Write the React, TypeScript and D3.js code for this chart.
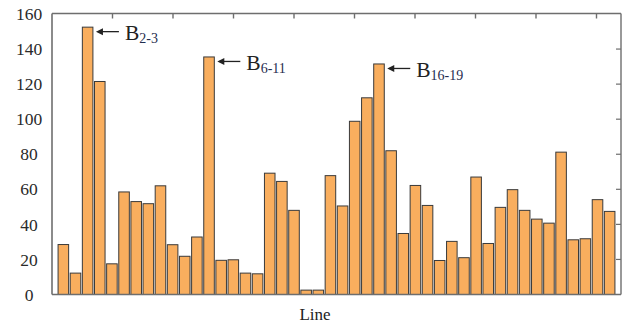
import React from "react";
import * as d3 from "d3";

const categories: string[] = Array.from({ length: 46 }, (_, i) => `L${i + 1}`);
const values: number[] = [
  28.5, 12.2, 152.5, 121.5, 17.5, 58.5, 53, 51.8, 62, 28.4, 21.8, 32.8, 135.5,
  19.5, 19.8, 12.2, 11.8, 69.2, 64.5, 48, 2.5, 2.5, 67.8, 50.5, 98.8, 112.2,
  131.5, 82, 34.8, 62.2, 50.8, 19.4, 30.3, 21, 67, 29.1, 49.7, 59.8, 48, 43,
  40.7, 81.2, 31.2, 31.8, 54.1, 47.4,
];
const yTicks: number[] = [0, 20, 40, 60, 80, 100, 120, 140, 160];
const topTicks: number[] = [1, 2, 3, 4, 5, 6, 7, 8, 9];
const annotations: { index: number; sub: string }[] = [
  { index: 2, sub: "2-3" },
  { index: 12, sub: "6-11" },
  { index: 26, sub: "16-19" },
];

const W = 630;
const H = 324;
const L = 52;
const R = 621;
const T = 13.5;
const B = 294.5;

export default function App() {
  const x = d3
    .scaleBand<string>()
    .domain(categories)
    .range([L, R])
    .paddingInner(0.13)
    .paddingOuter(0.5);
  const y = d3.scaleLinear().domain([0, 160]).range([B, 14]);
  const xTop = d3.scaleLinear().domain([0, (R - L) / 60.5]).range([L, R]);
  const frame = "#6e6e6e";
  const serif = "'Liberation Serif', 'Times New Roman', serif";

  return (
    <svg
      width={W}
      height={H}
      style={{ position: "absolute", left: 0, top: 0, background: "#fff" }}
    >
      {values.map((v, i) => (
        <rect
          key={i}
          x={x(categories[i])!}
          y={y(v)}
          width={x.bandwidth()}
          height={B - y(v)}
          fill="#F9AE5E"
          stroke="#3a3a3a"
          strokeWidth={1}
        />
      ))}
      {/* frame */}
      <line x1={L} x2={R} y1={T} y2={T} stroke={frame} strokeWidth={1.4} />
      <line x1={R} x2={R} y1={T} y2={B} stroke={frame} strokeWidth={1.4} />
      <line x1={L} x2={R} y1={B} y2={B} stroke={frame} strokeWidth={1.6} />
      <line x1={L} x2={L} y1={T} y2={B} stroke={frame} strokeWidth={1.6} />
      {topTicks.map((t) => (
        <line
          key={"tt" + t}
          x1={xTop(t)}
          x2={xTop(t)}
          y1={T}
          y2={T + 5}
          stroke={frame}
          strokeWidth={1.4}
        />
      ))}
      {yTicks
        .filter((t) => t > 0 && t < 160)
        .map((t) => (
          <line
            key={"rt" + t}
            x1={R - 5}
            x2={R}
            y1={y(t)}
            y2={y(t)}
            stroke={frame}
            strokeWidth={1.2}
          />
        ))}
      {yTicks.map((t) => (
        <text
          key={"yl" + t}
          x={29}
          y={y(t)}
          dy="0.35em"
          textAnchor="middle"
          fontFamily={serif}
          fontSize={17.5}
          fill="#2a2a2a"
        >
          {t}
        </text>
      ))}
      {annotations.map((a) => {
        const bx = x(categories[a.index])! + x.bandwidth();
        const ay = y(values[a.index]) + 4.5;
        return (
          <g key={a.sub}>
            <line
              x1={bx + 5}
              x2={bx + 26}
              y1={ay}
              y2={ay}
              stroke="#222"
              strokeWidth={1.3}
            />
            <path
              d={`M${bx + 3},${ay} L${bx + 10},${ay - 3.5} L${bx + 10},${ay + 3.5} Z`}
              fill="#222"
            />
            <text
              x={bx + 32}
              y={ay + 8.5}
              fontFamily={serif}
              fontSize={21.5}
              fill="#222"
            >
              B
              <tspan fontSize={14} dy={3} fill="#1f2d4f">
                {a.sub}
              </tspan>
            </text>
          </g>
        );
      })}
      <text
        x={315}
        y={320}
        textAnchor="middle"
        fontFamily={serif}
        fontSize={17}
        fill="#222"
      >
        Line
      </text>
    </svg>
  );
}
